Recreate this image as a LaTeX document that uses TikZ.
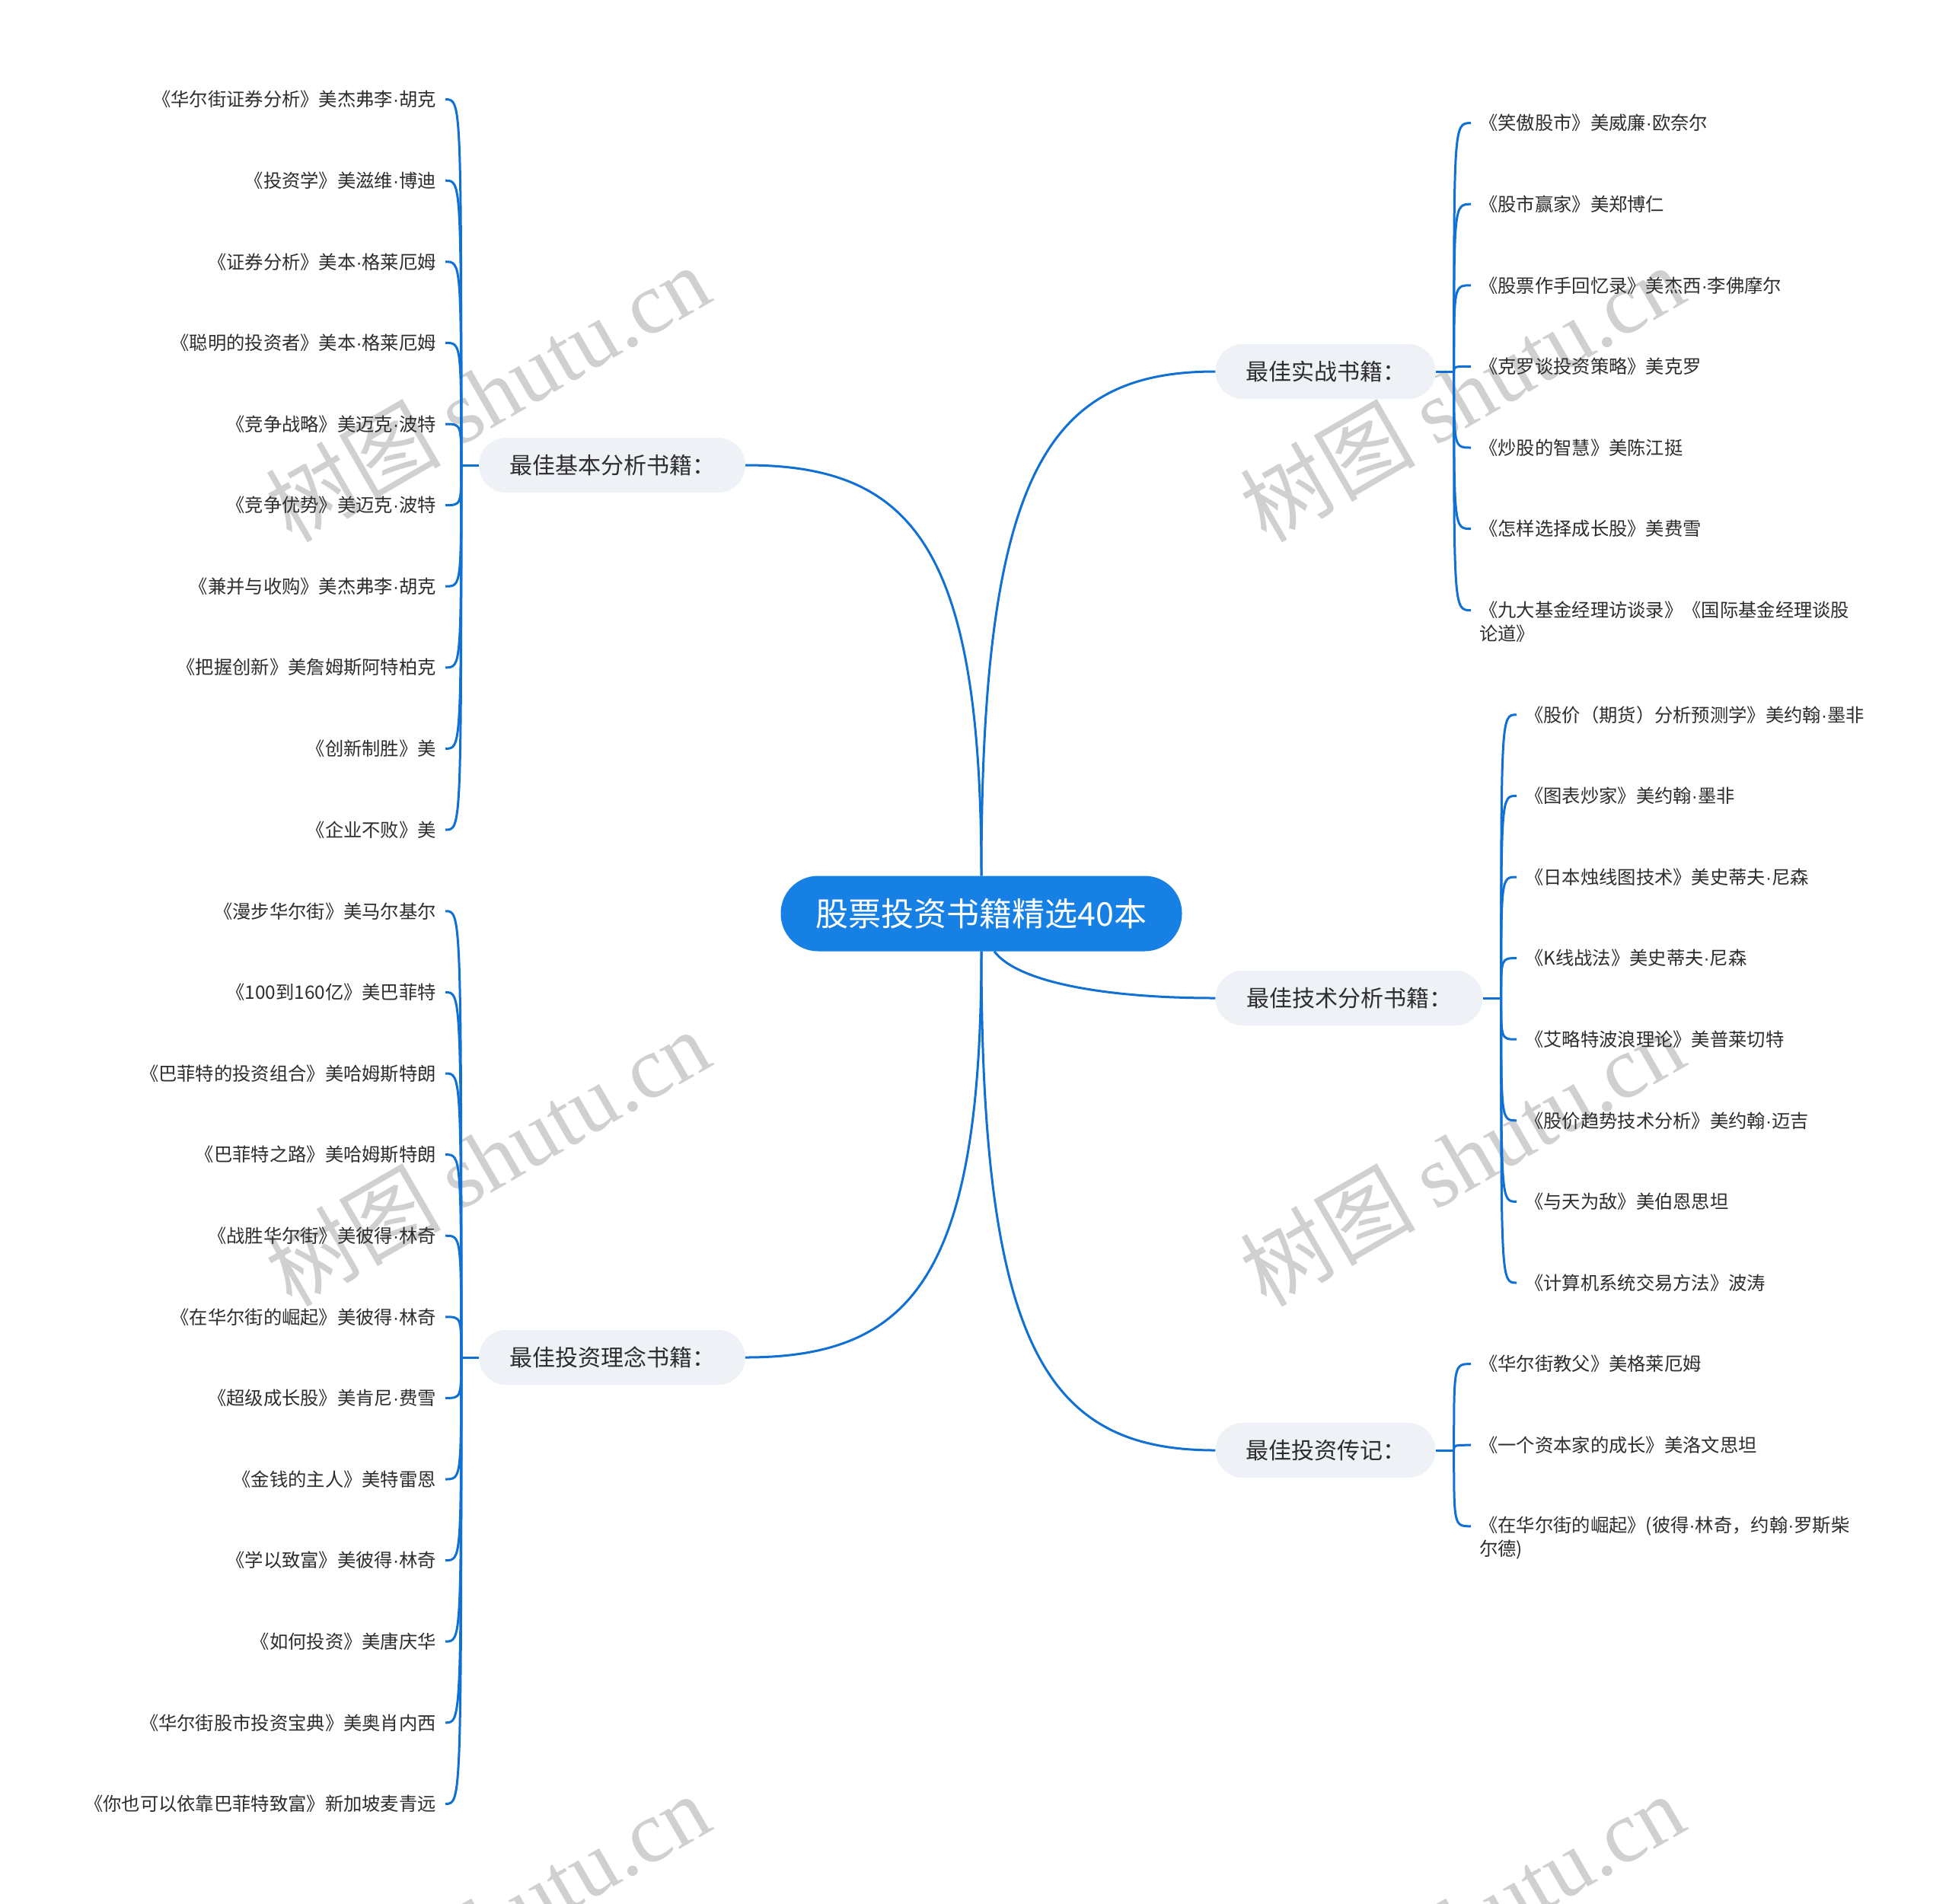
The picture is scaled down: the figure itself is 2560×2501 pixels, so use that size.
\documentclass[tikz,border=0pt]{standalone}
\usepackage{fontspec}
\setmainfont{Noto Sans CJK SC}
\newfontfamily\wmfont{Liberation Serif}
\newfontfamily\latinf{Liberation Sans}
\newcommand\mdt{{\latinf ·}}
\usetikzlibrary{calc}
\definecolor{linec}{RGB}{16,112,212}
\definecolor{rootc}{RGB}{22,128,228}
\definecolor{branchc}{RGB}{238,241,245}
\definecolor{textc}{RGB}{45,45,45}
\definecolor{wmc}{RGB}{208,208,208}
\begin{document}
\begin{tikzpicture}[x=1pt,y=-1pt,
  conn/.style={draw=linec, line width=3pt},
  rootnode/.style={fill=rootc, rounded corners=49pt, minimum height=99pt, minimum width=527pt, text=white, font=\fontsize{43}{52}\selectfont, inner sep=0pt},
  branchnode/.style={fill=branchc, rounded corners=36pt, minimum height=72pt, text=textc, font=\fontsize{30}{36}\selectfont, inner sep=0pt},
  leafL/.style={anchor=east, inner xsep=12pt, inner ysep=0pt, text=textc, font=\fontsize{24.3}{31}\selectfont},
  leafR/.style={anchor=west, inner xsep=11pt, inner ysep=0pt, align=left, text=textc, font=\fontsize{24.3}{31}\selectfont},
  wm/.style={text=wmc, rotate=30, font=\fontsize{115}{120}\selectfont}
]
\useasboundingbox (0,0) rectangle (2560,2501);
\fill[white] (0,0) rectangle (2560,2501);
% watermarks
\begin{scope}
\clip (0,0) rectangle (2560,2501);
\foreach \wx/\wy [count=\i] in {640/516, 1920/516, 640/1520, 1920/1520, 640/2524, 1920/2524}
  \node[wm] (wm\i) at (\wx,\wy) {树图 {\wmfont shutu.cn}};
\end{scope}

% main nodes
\node[rootnode] (root) at (1289,1200) {股票投资书籍精选40本};
\node[branchnode, minimum width=350pt] (jiben) at (804,611) {最佳基本分析书籍：};
\node[branchnode, minimum width=350pt] (linian) at (804,1783) {最佳投资理念书籍：};
\node[branchnode, minimum width=289pt] (shizhan) at (1741,488) {最佳实战书籍：};
\node[branchnode, minimum width=351pt] (jishu) at (1772,1311) {最佳技术分析书籍：};
\node[branchnode, minimum width=289pt] (zhuanji) at (1741,1905) {最佳投资传记：};

% main curves
\draw[conn] (root.north) .. controls +(0,-431) and +(220,0) .. (jiben.east);
\draw[conn] (root.north) .. controls +(0,-530) and +(-220,0) .. (shizhan.west);
\draw[conn] (root.south) .. controls +(0,425) and +(220,0) .. (linian.east);
\draw[conn] (root.south) .. controls +(0,524) and +(-220,0) .. (zhuanji.west);
\draw[conn] ([xshift=17pt]root.south) .. controls +(30,40) and +(-147,0) .. (jishu.west);

% junctions
\coordinate (jb) at ([xshift=-23pt]jiben.west);
\coordinate (jl) at ([xshift=-23pt]linian.west);
\coordinate (js) at ([xshift=24pt]shizhan.east);
\coordinate (jt) at ([xshift=24pt]jishu.east);
\coordinate (jz) at ([xshift=24pt]zhuanji.east);
\draw[conn] (jiben.west) -- (jb);
\draw[conn] (linian.west) -- (jl);
\draw[conn] (shizhan.east) -- (js);
\draw[conn] (jishu.east) -- (jt);
\draw[conn] (zhuanji.east) -- (jz);

% left: basic analysis
\foreach \t [count=\k from 0] in {
  {《华尔街证券分析》美杰弗李\mdt 胡克},
  {《投资学》美滋维\mdt 博迪},
  {《证券分析》美本\mdt 格莱厄姆},
  {《聪明的投资者》美本\mdt 格莱厄姆},
  {《竞争战略》美迈克\mdt 波特},
  {《竞争优势》美迈克\mdt 波特},
  {《兼并与收购》美杰弗李\mdt 胡克},
  {《把握创新》美詹姆斯阿特柏克},
  {《创新制胜》美},
  {《企业不败》美}} {
  \node[leafL] (B\k) at (585, {130.6+106.6*\k}) {\t};
  \draw[conn] (jb) .. controls (jb |- B\k.east) and (jb |- B\k.east) .. (B\k.east);
}

% left: investment philosophy
\foreach \t [count=\k from 0] in {
  {《漫步华尔街》美马尔基尔},
  {《100到160亿》美巴菲特},
  {《巴菲特的投资组合》美哈姆斯特朗},
  {《巴菲特之路》美哈姆斯特朗},
  {《战胜华尔街》美彼得\mdt 林奇},
  {《在华尔街的崛起》美彼得\mdt 林奇},
  {《超级成长股》美肯尼\mdt 费雪},
  {《金钱的主人》美特雷恩},
  {《学以致富》美彼得\mdt 林奇},
  {《如何投资》美唐庆华},
  {《华尔街股市投资宝典》美奥肖内西},
  {《你也可以依靠巴菲特致富》新加坡麦青远}} {
  \node[leafL] (P\k) at (585, {1196.8+106.6*\k}) {\t};
  \draw[conn] (jl) .. controls (jl |- P\k.east) and (jl |- P\k.east) .. (P\k.east);
}

% right: practice
\foreach \t [count=\k from 0] in {
  {《笑傲股市》美威廉\mdt 欧奈尔},
  {《股市赢家》美郑博仁},
  {《股票作手回忆录》美杰西\mdt 李佛摩尔},
  {《克罗谈投资策略》美克罗},
  {《炒股的智慧》美陈江挺},
  {《怎样选择成长股》美费雪}} {
  \node[leafR] (S\k) at (1932, {161.6+106.6*\k}) {\t};
  \draw[conn] (js) .. controls (js |- S\k.west) and (js |- S\k.west) .. (S\k.west);
}
\node[leafR] (S6) at (1932, 817.1) {《九大基金经理访谈录》《国际基金经理谈股\\论道》};
\coordinate (s6e) at ([yshift=15.5pt]S6.west);
\draw[conn] (js) .. controls (js |- s6e) and (js |- s6e) .. (s6e);

% right: technical analysis
\foreach \t [count=\k from 0] in {
  {《股价（期货）分析预测学》美约翰\mdt 墨非},
  {《图表炒家》美约翰\mdt 墨非},
  {《日本烛线图技术》美史蒂夫\mdt 尼森},
  {《K线战法》美史蒂夫\mdt 尼森},
  {《艾略特波浪理论》美普莱切特},
  {《股价趋势技术分析》美约翰\mdt 迈吉},
  {《与天为敌》美伯恩思坦},
  {《计算机系统交易方法》波涛}} {
  \node[leafR] (T\k) at (1992, {938.8+106.6*\k}) {\t};
  \draw[conn] (jt) .. controls (jt |- T\k.west) and (jt |- T\k.west) .. (T\k.west);
}

% right: biographies
\foreach \t [count=\k from 0] in {
  {《华尔街教父》美格莱厄姆},
  {《一个资本家的成长》美洛文思坦}} {
  \node[leafR] (Z\k) at (1932, {1791.6+106.6*\k}) {\t};
  \draw[conn] (jz) .. controls (jz |- Z\k.west) and (jz |- Z\k.west) .. (Z\k.west);
}
\node[leafR] (Z2) at (1932, 2020.3) {《在华尔街的崛起》(彼得\mdt 林奇，约翰\mdt 罗斯柴\\尔德)};
\coordinate (z2e) at ([yshift=15.5pt]Z2.west);
\draw[conn] (jz) .. controls (jz |- z2e) and (jz |- z2e) .. (z2e);
\end{tikzpicture}
\end{document}
